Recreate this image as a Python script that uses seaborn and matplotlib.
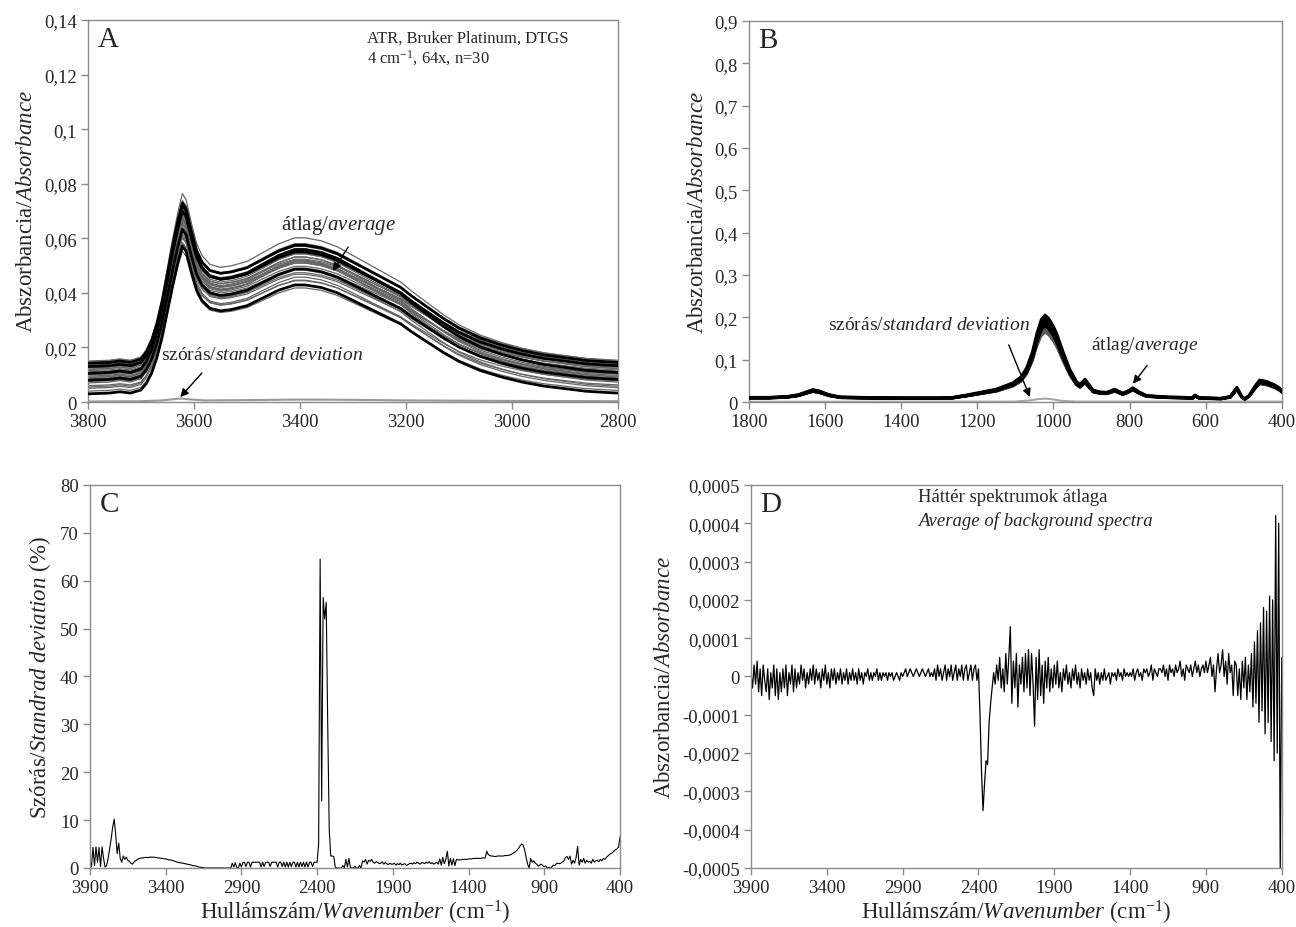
import numpy as np
import pandas as pd
import matplotlib
matplotlib.use("Agg")
import matplotlib.pyplot as plt
import seaborn as sns
from matplotlib.ticker import FuncFormatter

# ---------------- data ----------------
# Panel A: mean band shape (baseline removed), 3800-2800 cm-1
a_wn = [3800, 3760, 3740, 3720, 3700, 3690, 3680, 3670, 3660, 3650, 3640, 3630,
        3622, 3615, 3605, 3595, 3585, 3570, 3550, 3530, 3500, 3470, 3440, 3410,
        3390, 3360, 3330, 3300, 3270, 3250, 3230, 3210, 3190, 3160, 3130, 3100,
        3060, 3020, 2980, 2940, 2900, 2860, 2820, 2800]
a_band = [0.0, 0.0003, 0.0008, 0.0003, 0.0015, 0.004, 0.008, 0.014, 0.022, 0.032,
          0.042, 0.051, 0.057, 0.055, 0.047, 0.040, 0.036, 0.033, 0.032, 0.0325,
          0.034, 0.037, 0.040, 0.042, 0.042, 0.041, 0.039, 0.036, 0.033, 0.031,
          0.029, 0.027, 0.024, 0.020, 0.016, 0.0125, 0.009, 0.0065, 0.0045, 0.003,
          0.002, 0.001, 0.0005, 0.0003]
# per-sample baseline offset and band intensity (n=30)
sample_offset = [0.003, 0.004, 0.005, 0.0055, 0.006, 0.007, 0.0075, 0.008, 0.0085, 0.009,
                 0.009, 0.0095, 0.010, 0.010, 0.0105, 0.011, 0.011, 0.0115, 0.012, 0.012,
                 0.0125, 0.013, 0.013, 0.0135, 0.014, 0.014, 0.0142, 0.0145, 0.015, 0.0148]
sample_scale = [0.95, 0.90, 0.97, 1.02, 0.92, 1.06, 0.88, 0.97, 1.02, 0.90,
                1.05, 0.93, 1.00, 0.89, 1.08, 0.95, 1.03, 0.91, 0.98, 1.05,
                0.86, 1.00, 0.92, 1.06, 0.88, 0.96, 1.03, 0.90, 1.00, 1.08]
a_sd_wn = [3800, 3700, 3660, 3640, 3625, 3610, 3580, 3500, 3400, 3300, 3200, 3000, 2800]
a_sd = [0.0002, 0.0003, 0.0006, 0.0010, 0.0013, 0.0010, 0.0006, 0.0007, 0.0009,
        0.0008, 0.0006, 0.0004, 0.0003]

# Panel B: mean spectrum 1800-400 cm-1
b_wn = [1800, 1750, 1700, 1670, 1650, 1632, 1615, 1590, 1560, 1500,
        1400, 1300, 1265, 1230, 1193, 1150, 1106, 1085, 1070, 1055,
        1044, 1032, 1022, 1012, 1000, 991, 975, 957, 940, 930,
        917, 905, 896, 878, 860, 839, 818, 805, 791, 775,
        755, 700, 650, 635, 628, 618, 600, 560, 535, 518,
        505, 497, 485, 470, 458, 440, 420, 405, 400]
b_mean = [0.010, 0.010, 0.012, 0.016, 0.022, 0.027, 0.024, 0.016, 0.011, 0.010,
          0.009, 0.009, 0.010, 0.015, 0.021, 0.028, 0.042, 0.055, 0.075, 0.110,
          0.148, 0.180, 0.190, 0.182, 0.165, 0.148, 0.110, 0.071, 0.045, 0.038,
          0.050, 0.036, 0.026, 0.022, 0.021, 0.028, 0.019, 0.024, 0.031, 0.022,
          0.014, 0.011, 0.010, 0.009, 0.015, 0.010, 0.009, 0.008, 0.012, 0.032,
          0.012, 0.007, 0.015, 0.035, 0.048, 0.045, 0.038, 0.030, 0.025]
b_sd_wn = [1800, 1100, 1060, 1040, 1020, 1000, 980, 940, 400]
b_sd = [0.0005, 0.001, 0.004, 0.007, 0.008, 0.006, 0.003, 0.001, 0.001]

# Panels C and D: 3900 -> 400 cm-1, every 10 cm-1 (rows of 100 cm-1)
cd_wn = list(range(3900, 399, -10))

c_sd_pct = [
    1.5, 0.2, 4.3, 0.5, 4.4, 1.2, 4.3, 0.3, 4.4, 2.0,
    0.2, 0.5, 2.0, 4.0, 6.0, 8.5, 10.2, 7.0, 3.0, 5.2,
    2.0, 1.2, 2.5, 1.8, 2.3, 1.6, 1.4, 1.0, 0.8, 1.2,
    1.5, 1.7, 1.9, 2.0, 2.1, 2.1, 2.2, 2.2, 2.2, 2.2,
    2.3, 2.2, 2.3, 2.2, 2.2, 2.1, 2.1, 2.0, 2.0, 1.9,
    1.9, 1.8, 1.7, 1.7, 1.6, 1.5, 1.4, 1.3, 1.2, 1.1,
    1.1, 1.0, 0.95, 0.9, 0.8, 0.75, 0.7, 0.6, 0.5, 0.45,
    0.4, 0.3, 0.2, 0.15, 0.1, 0.05, 0.0, 0.0, 0.0, 0.0,
    0.0, 0.0, 0.0, 0.0, 0.0, 0.0, 0.0, 0.0, 0.0, 0.0,
    0.0, 0.0, 0.0, 0.0, 1.0, 0.2, 1.1, 0.1, 0.0, 1.0,
    0.2, 1.1, 1.2, 0.3, 1.2, 1.2, 0.2, 1.2, 1.2, 1.2,
    1.2, 1.2, 1.2, 0.2, 1.2, 0.3, 1.2, 1.2, 1.2, 0.3,
    1.2, 1.2, 1.2, 1.2, 0.2, 1.2, 1.2, 0.3, 1.2, 0.2,
    1.2, 0.2, 1.2, 0.3, 1.2, 1.2, 0.2, 1.2, 0.2, 1.2,
    0.3, 1.2, 0.2, 1.2, 0.2, 1.2, 1.2, 0.3, 1.2, 1.2,
    1.2, 5.0, 64.5, 14.0, 56.5, 52.0, 55.5, 30.0, 8.0, 2.5,
    2.5, 2.4, 0.2, 0.0, 0.0, 0.0, 0.0, 0.5, 0.0, 1.8,
    0.2, 2.0, 0.1, 0.0, 0.0, 0.3, 0.0, 0.0, 0.5, 0.0,
    1.5, 1.2, 1.8, 0.8, 1.6, 1.4, 1.8, 1.2, 1.0, 1.3,
    1.2, 0.9, 1.0, 1.3, 0.8, 1.1, 0.9, 0.7, 1.0, 0.8,
    0.8, 1.0, 0.6, 0.9, 0.7, 1.0, 0.6, 0.8, 0.9, 0.5,
    0.7, 0.9, 1.0, 0.8, 1.1, 0.9, 1.2, 1.0, 0.8, 1.1,
    1.1, 0.9, 1.2, 1.0, 1.3, 0.9, 1.1, 0.8, 1.0, 1.2,
    0.8, 1.9, 0.6, 2.2, 0.9, 1.8, 3.5, 0.4, 2.0, 0.6,
    1.9, 0.5, 1.8, 1.7, 1.7, 1.7, 1.8, 1.8, 1.8, 1.8,
    1.9, 1.9, 1.9, 2.0, 2.0, 2.0, 2.0, 2.0, 2.0, 2.1,
    2.1, 2.1, 3.5, 2.8, 2.6, 2.5, 2.5, 2.4, 2.4, 2.5,
    2.5, 2.5, 2.5, 2.5, 2.6, 2.6, 2.6, 2.7, 2.8, 3.0,
    3.2, 3.4, 3.7, 4.1, 4.6, 5.0, 4.8, 3.8, 2.2, 0.8,
    0.0, 2.0, 1.2, 1.5, 1.0, 0.8, 0.4, 0.6, 0.8, 0.5,
    0.3, 0.4, 0.0, 0.1, 0.0, 0.2, 0.6, 0.5, 0.9, 1.0,
    0.9, 1.0, 1.3, 1.5, 2.2, 2.4, 1.8, 2.5, 0.8, 1.6,
    1.0, 2.2, 4.5, 0.6, 1.8, 1.2, 2.0, 1.0, 1.6, 1.2,
    1.4, 1.0, 1.8, 1.2, 1.5, 1.6, 1.3, 1.8, 1.5, 2.0,
    1.8, 2.2, 2.5, 2.8, 3.0, 3.2, 3.5, 3.8, 4.0, 4.3,
    6.5]

# background average, in units of 1e-5 absorbance
d_bg_1e5 = [
    1, -3, 3, -2, 4, -4, 2, -5, 3, -1,
    -4, 2, -6, 1, -3, 3, -5, 2, -6, 1,
    -4, 2, -3, 3, -5, 1, -2, 3, -4, 2,
    -3, 1, -2, 3, -1, 2, -3, 1, -2, 2,
    -1, 3, -2, 2, -1, 1, -3, 2, -1, 3,
    -2, 1, -3, 2, -1, 2, -2, 1, -1, 2,
    -2, 1, -1, 2, -2, 1, -1, 2, -1, 1,
    -2, 2, -1, 1, -2, 1, 0, 2, -1, 1,
    -1, 1, 0, 2, -1, 1, -1, 1, 0, 1,
    -1, 1, 0, 1, -1, 0, 1, 0, -1, 1,
    0, 1, 2, 0, 1, 2, 1, 0, 1, 2,
    1, 0, 1, 2, 1, 0, 1, 2, 0, 1,
    0, 2, -1, 3, 0, 2, -1, 1, 3, -1,
    2, 0, 3, -1, 1, 3, -1, 2, 0, 3,
    -1, 2, 3, -1, 1, 3, -1, 2, 3, -1,
    2, -10, -25, -35, -28, -22, -23, -12, -7, -3,
    1, -2, 3, -1, 5, -3, 2, -4, 6, -2,
    5, 13, -7, 4, -3, 6, -8, 3, -2, 5,
    -4, 6, -3, 7, -5, 6, -2, -13, 5, -6,
    7, -5, 3, -7, 4, -3, 5, -4, 2, -3,
    3, -2, 4, -3, 1, -4, 2, -1, 3, -2,
    1, -3, 2, -1, 3, -2, 1, -3, 2, -1,
    1, -2, 2, -1, 1, -3, -5, 2, -1, 1,
    -2, 1, -1, 2, -1, 0, 1, -2, 1, 0,
    1, -1, 2, 0, 1, -1, 2, 0, 1, 0,
    1, 0, 2, -1, 1, 2, 0, 1, -1, 2,
    1, 2, 0, 1, 3, -1, 2, 1, 0, 2,
    2, 1, 3, 0, 2, -1, 3, 1, 2, 0,
    3, 1, 2, 4, 0, 2, -1, 3, 2, 1,
    3, 0, 2, 4, 1, 3, 0, 2, 3, 1,
    4, 1, 3, 5, 0, 3, -4, 2, 6, 1,
    3, 7, 0, 4, -2, 6, 1, 3, -5, 4,
    3, -5, 2, -6, 4, -3, 5, -6, 3, -4,
    6, -8, 9, -7, 12, -12, 14, -9, 18, -15,
    17, -12, 21, -17, 20, -22, 42, -20, 40, -50,
    5]

# ---------------- style ----------------
sns.set_style("ticks")
plt.rcParams["font.family"] = ["Liberation Serif", "DejaVu Serif"]
plt.rcParams["mathtext.fontset"] = "custom"
plt.rcParams["mathtext.rm"] = "Liberation Serif"
plt.rcParams["mathtext.it"] = "Liberation Serif:italic"
plt.rcParams["mathtext.bf"] = "Liberation Serif:bold"

SPINE = "#8a8a8a"
TICK_FS = 13.5
LABEL_FS = 16.5
ANNOT_FS = 14
thick_samples = [0, 7, 14, 21, 26]


def comma_fmt(v, pos):
    v = round(v, 6)
    if v == 0:
        return "0"
    return f"{v:g}".replace(".", ",")


def style_axes(ax, xlim, xticks, ylim, yticks, ylabel, xlabel=None, letter=""):
    ax.set_xlim(*xlim)
    ax.set_ylim(*ylim)
    ax.set_xticks(xticks)
    ax.set_yticks(yticks)
    ax.yaxis.set_major_formatter(FuncFormatter(comma_fmt))
    ax.xaxis.set_major_formatter(FuncFormatter(comma_fmt))
    for sp in ax.spines.values():
        sp.set_visible(True)
        sp.set_color(SPINE)
        sp.set_linewidth(1.0)
    ax.tick_params(direction="out", length=5, width=1, color=SPINE,
                   labelsize=TICK_FS, pad=3)
    ax.set_ylabel(ylabel, fontsize=LABEL_FS, labelpad=5)
    if xlabel:
        ax.set_xlabel(xlabel, fontsize=LABEL_FS, labelpad=1)
    else:
        ax.set_xlabel("")
    ax.text(0.018, 0.985, letter, transform=ax.transAxes, fontsize=21,
            va="top", ha="left")


fig = plt.figure(figsize=(12.96, 9.28), dpi=100)
ax_a = fig.add_axes([0.0679, 0.5657, 0.409, 0.4117])
ax_b = fig.add_axes([0.578, 0.5657, 0.411, 0.4106])
ax_c = fig.add_axes([0.0694, 0.0636, 0.409, 0.4127])
ax_d = fig.add_axes([0.5795, 0.0636, 0.4095, 0.4127])

abs_label = r"Abszorbancia/$\mathit{Absorbance}$"
wn_label = r"Hullámszám/$\mathit{Wavenumber}$ (cm$^{-1}$)"
arrow = dict(arrowstyle="-|>", color="black", lw=1.0, mutation_scale=12)

# ---- A ----
a_band_arr = np.array(a_band)
for i, (off, sc) in enumerate(zip(sample_offset, sample_scale)):
    thick = i in thick_samples
    sns.lineplot(x=a_wn, y=off + sc * a_band_arr, ax=ax_a, sort=False,
                 estimator=None, color="black" if thick else "0.4",
                 lw=2.0 if thick else 0.9, zorder=3 if thick else 2)
sns.lineplot(x=a_sd_wn, y=a_sd, ax=ax_a, sort=False, estimator=None,
             color="0.6", lw=1.5)
style_axes(ax_a, (3800, 2800), list(range(3800, 2799, -200)), (0, 0.14),
           np.arange(0, 0.1401, 0.02), abs_label, letter="A")
ax_a.text(0.526, 0.955, "ATR, Bruker Platinum, DTGS", transform=ax_a.transAxes,
          fontsize=12, va="center")
ax_a.text(0.526, 0.903, r"4 cm$^{-1}$, 64x, n=30", transform=ax_a.transAxes,
          fontsize=12, va="center")
ax_a.annotate(r"átlag/$\mathit{average}$", xy=(3338, 0.048), xytext=(3328, 0.0652),
              ha="center", va="center", fontsize=ANNOT_FS + 1,
              arrowprops=dict(arrow, shrinkA=7, shrinkB=0, relpos=(0.65, 0.0)))
ax_a.annotate(r"szórás/$\mathit{standard\ deviation}$", xy=(3626, 0.0018),
              xytext=(3472, 0.0176), ha="center", va="center", fontsize=ANNOT_FS,
              arrowprops=dict(arrow, shrinkA=7, shrinkB=0,
                              relpos=(0.25, 0.0)))

# ---- B ----
b_mean_arr = np.array(b_mean)
for i, sc in enumerate(sample_scale):
    thick = i in thick_samples
    sns.lineplot(x=b_wn, y=sc * b_mean_arr, ax=ax_b, sort=False, estimator=None,
                 color="black" if thick else "0.35", lw=2.2 if thick else 1.2,
                 zorder=3 if thick else 2)
sns.lineplot(x=b_sd_wn, y=b_sd, ax=ax_b, sort=False, estimator=None,
             color="0.65", lw=1.5)
style_axes(ax_b, (1800, 400), list(range(1800, 399, -200)), (0, 0.9),
           np.arange(0, 0.901, 0.1), abs_label, letter="B")
ax_b.annotate(r"szórás/$\mathit{standard\ deviation}$", xy=(1062, 0.012),
              xytext=(1327, 0.184), ha="center", va="center", fontsize=ANNOT_FS,
              arrowprops=dict(arrow, shrinkA=7, shrinkB=0,
                              relpos=(0.87, 0.0)))
ax_b.annotate(r"átlag/$\mathit{average}$", xy=(791, 0.043), xytext=(760, 0.137),
              ha="center", va="center", fontsize=ANNOT_FS,
              arrowprops=dict(arrow, shrinkA=7, shrinkB=0, relpos=(0.6, 0.0)))

# ---- C ----
sns.lineplot(x=cd_wn, y=c_sd_pct, ax=ax_c, sort=False, estimator=None,
             color="black", lw=0.8)
style_axes(ax_c, (3900, 400), list(range(3900, 399, -500)), (0, 80),
           list(range(0, 81, 10)), r"Szórás/$\mathit{Standrad\ deviation}$ (%)",
           xlabel=wn_label, letter="C")

# ---- D ----
sns.lineplot(x=cd_wn, y=np.array(d_bg_1e5) * 1e-5, ax=ax_d, sort=False,
             estimator=None, color="black", lw=0.9)
style_axes(ax_d, (3900, 400), list(range(3900, 399, -500)), (-0.0005, 0.0005),
           np.arange(-0.0005, 0.00051, 0.0001), abs_label, xlabel=wn_label,
           letter="D")
ax_d.text(0.3145, 0.969, "Háttér spektrumok átlaga", transform=ax_d.transAxes,
          fontsize=13.5, va="center")
ax_d.text(0.3145, 0.909, "Average of background spectra", transform=ax_d.transAxes,
          fontsize=13.5, va="center", style="italic")

fig.savefig("out.png", dpi=100, facecolor="white")
